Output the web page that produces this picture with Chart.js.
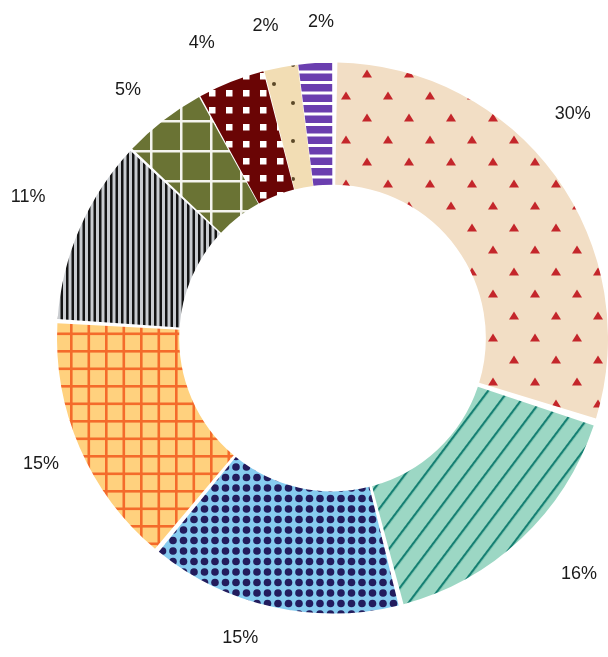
<!DOCTYPE html>
<html>
<head>
<meta charset="utf-8">
<script src="https://cdn.jsdelivr.net/npm/chart.js@4"></script>
<style>
    html, body { margin: 0; padding: 0; background: #fff; }
    #wrap { width: 608px; height: 657px; }
</style>
</head>
<body>
<div id="wrap"><canvas id="donutChart"></canvas></div>
<script>
// Slice shares in percent, clockwise from 12 o'clock
const categories = ['Slice 1', 'Slice 2', 'Slice 3', 'Slice 4', 'Slice 5', 'Slice 6', 'Slice 7', 'Slice 8', 'Slice 9'];
const shares = [30, 16, 15, 15, 11, 5, 4, 2, 2];

// small angle / distance nudges for the outside labels (degrees, px)
const labelNudge = [-7, -3, 4.5, 0, 1.5, -1.7, -2.3, -1.3, 1.5];
const labelDist = [57, 70, 42, 46, 64, 50, 51, 48, 45];

function tile(w, h, draw) {
    const c = document.createElement('canvas');
    c.width = w;
    c.height = h;
    const g = c.getContext('2d');
    draw(g, w, h);
    return g.createPattern(c, 'repeat');
}

// triangles on beige
const triangles = tile(42, 44, function(g) {
    g.fillStyle = '#f2dec5';
    g.fillRect(0, 0, 42, 44);
    g.fillStyle = '#c4262b';
    [[10, 8], [31, 30]].forEach(function(p) {
        g.beginPath();
        g.moveTo(p[0], p[1] - 4.5);
        g.lineTo(p[0] + 5, p[1] + 3.5);
        g.lineTo(p[0] - 5, p[1] + 3.5);
        g.closePath();
        g.fill();
    });
});

// diagonal lines on teal
const diagonal = tile(16, 16, function(g) {
    g.fillStyle = '#9cd7c4';
    g.fillRect(0, 0, 16, 16);
    g.fillStyle = '#168073';
    g.fillRect(0, 0, 2.2, 16);
});
diagonal.setTransform(new DOMMatrix().rotate(37));

// navy dots on light blue
const dots = tile(21, 21, function(g) {
    g.fillStyle = '#86cbef';
    g.fillRect(0, 0, 21, 21);
    g.fillStyle = '#221c5d';
    [[5, 5], [15.5, 5], [5, 15.5], [15.5, 15.5]].forEach(function(p) {
        g.beginPath();
        g.arc(p[0], p[1], 3.8, 0, Math.PI * 2);
        g.fill();
    });
});

// orange grid
const grid = tile(35, 35, function(g) {
    g.fillStyle = '#ffd17e';
    g.fillRect(0, 0, 35, 35);
    g.fillStyle = '#f46b2b';
    g.fillRect(0, 0, 2.6, 35);
    g.fillRect(17.5, 0, 2.6, 35);
    g.fillRect(0, 0, 35, 2.6);
    g.fillRect(0, 17.5, 35, 2.6);
});

// black vertical pinstripes
const pinstripe = tile(11, 11, function(g) {
    g.fillStyle = '#c9ccd0';
    g.fillRect(0, 0, 11, 11);
    g.fillStyle = '#141414';
    g.fillRect(0, 0, 2.5, 11);
    g.fillRect(5.5, 0, 2.5, 11);
});

// white grid on olive
const olive = tile(30, 30, function(g) {
    g.fillStyle = '#6a7334';
    g.fillRect(0, 0, 30, 30);
    g.fillStyle = '#f4f4ee';
    g.fillRect(0, 0, 2.5, 30);
    g.fillRect(0, 0, 30, 2.5);
});

// white squares on maroon
const checks = tile(17, 17, function(g) {
    g.fillStyle = '#6a0505';
    g.fillRect(0, 0, 17, 17);
    g.fillStyle = '#ffffff';
    g.fillRect(5, 5, 6.5, 6.5);
});

// sparse brown dots on wheat
const specks = tile(38, 38, function(g) {
    g.fillStyle = '#f2ddb4';
    g.fillRect(0, 0, 38, 38);
    g.fillStyle = '#5c4828';
    [[8, 8], [27, 27]].forEach(function(p) {
        g.beginPath();
        g.arc(p[0], p[1], 2, 0, Math.PI * 2);
        g.fill();
    });
});

// purple horizontal stripes
const bars = tile(10, 21, function(g) {
    g.fillStyle = '#ffffff';
    g.fillRect(0, 0, 10, 21);
    g.fillStyle = '#6a3eaf';
    g.fillRect(0, 0, 10, 7.5);
    g.fillRect(0, 10.5, 10, 7.5);
});

const fills = [triangles, diagonal, dots, grid, pinstripe, olive, checks, specks, bars];

// draws the percent labels outside the ring
const outsideLabels = {
    id: 'outsideLabels',
    afterDatasetsDraw(chart) {
        const ctx = chart.ctx;
        const meta = chart.getDatasetMeta(0);
        const total = shares.reduce(function(a, b) { return a + b; }, 0);
        ctx.save();
        ctx.font = '18px "Liberation Sans", Arial, sans-serif';
        ctx.fillStyle = '#1a1a1a';
        ctx.textAlign = 'center';
        ctx.textBaseline = 'middle';
        meta.data.forEach(function(arc, i) {
            const mid = (arc.startAngle + arc.endAngle) / 2 + labelNudge[i] * Math.PI / 180;
            const d = arc.outerRadius + labelDist[i];
            const x = arc.x + Math.cos(mid) * d;
            const y = arc.y + Math.sin(mid) * d;
            ctx.fillText(Math.round(shares[i] / total * 100) + '%', x, y);
        });
        ctx.restore();
    }
};

new Chart(document.getElementById('donutChart'), {
    type: 'doughnut',
    data: {
        labels: categories,
        datasets: [{
            data: shares,
            backgroundColor: fills,
            borderWidth: 0,
            spacing: 8
        }]
    },
    options: {
        responsive: true,
        maintainAspectRatio: false,
        animation: false,
        events: [],
        cutout: '55%',
        layout: {
            padding: { left: 57, right: -1, top: 62, bottom: 43 }
        },
        plugins: {
            legend: { display: false },
            tooltip: { enabled: false }
        }
    },
    plugins: [outsideLabels]
});
</script>
</body>
</html>
